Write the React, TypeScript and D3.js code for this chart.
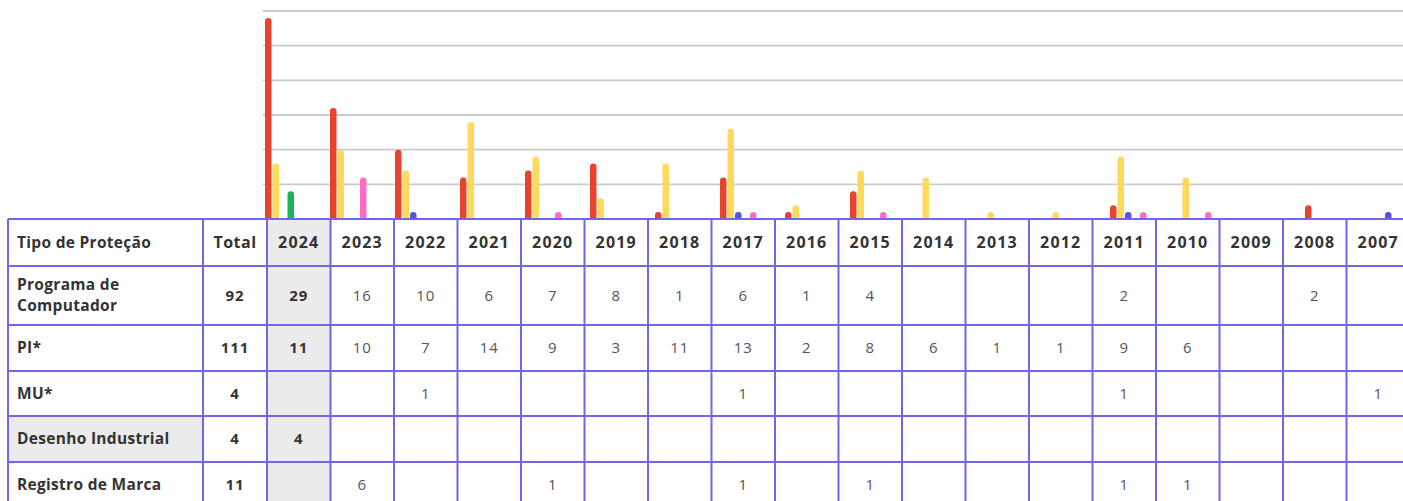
import * as d3 from "d3";

// table content
const years = ["2024", "2023", "2022", "2021", "2020", "2019", "2018", "2017", "2016",
  "2015", "2014", "2013", "2012", "2011", "2010", "2009", "2008", "2007"];
const tipos = ["Programa de Computador", "PI*", "MU*", "Desenho Industrial", "Registro de Marca"];
const totals = [92, 111, 4, 4, 11];

const programa = [29, 16, 10, 6, 7, 8, 1, 6, 1, 4, null, null, null, 2, null, null, 2, null];
const pi = [11, 10, 7, 14, 9, 3, 11, 13, 2, 8, 6, 1, 1, 9, 6, null, null, null];
const mu = [null, null, 1, null, null, null, null, 1, null, null, null, null, null, 1, null, null, null, 1];
const desenho = [4, null, null, null, null, null, null, null, null, null, null, null, null, null, null, null, null, null];
const marca = [null, 6, null, null, 1, null, null, 1, null, 1, null, null, null, 1, 1, null, null, null];

// bar heights as drawn in the chart above the table
const barPrograma = [29, 16, 10, 6, 7, 8, 1, 6, 1, 4, 0, 0, 0, 2, 0, 0, 2, 0];
const barPI = [8, 10, 7, 14, 9, 3, 8, 13, 2, 7, 6, 1, 1, 9, 6, 0, 0, 0];
const barMU = [0, 0, 1, 0, 0, 0, 0, 1, 0, 0, 0, 0, 0, 1, 0, 0, 0, 1];
const barDesenho = [4, 0, 0, 0, 0, 0, 0, 0, 0, 0, 0, 0, 0, 0, 0, 0, 0, 0];
const barMarca = [0, 6, 0, 0, 1, 0, 0, 1, 0, 1, 0, 0, 0, 1, 1, 0, 0, 0];

const gridValues = [5, 10, 15, 20, 25, 30];

const W = 1403;
const H = 501;
const border = "#7166e6";
const shade = "#ebebeb";
const font = "'Open Sans', sans-serif";

const tableRows = [programa, pi, mu, desenho, marca];
const barSeries = [
  { key: "programa", values: barPrograma, color: "#e8432f" },
  { key: "pi", values: barPI, color: "#ffd95c" },
  { key: "mu", values: barMU, color: "#5a50e2" },
  { key: "desenho", values: barDesenho, color: "#1bb35a" },
  { key: "marca", values: barMarca, color: "#ff6ec4" },
];

const rowEdges = [219, 266, 325, 371, 416, 462, 508];

export default function App() {
  const y = d3.scaleLinear().domain([0, 30]).range([219, 11]);
  const xGroup = d3.scaleBand<string>().domain(years).range([264.5, 264.5 + years.length * 65]);
  const xBar = d3.scaleBand<string>().domain(barSeries.map((s) => s.key)).range([0, 37.5]);
  const barW = 6.5;

  const colX = d3.scaleBand<string>().domain(years).range([267, 267 + years.length * 63.5]);
  const firstL = 8;
  const totalL = 203;
  const totalR = 267;

  const barPath = (x: number, top: number, base: number) => {
    const r = Math.min(barW / 2, (base - top) / 2);
    return `M${x},${base}V${top + r}A${r},${r} 0 0 1 ${x + barW},${top + r}V${base}Z`;
  };

  const rowMid = (i: number) => (rowEdges[i] + rowEdges[i + 1]) / 2;

  return (
    <svg width={W} height={H} style={{ position: "absolute", left: 0, top: 0, background: "#fff" }}>
      {/* grid */}
      {gridValues.map((v) => (
        <line key={v} x1={263} x2={W} y1={y(v)} y2={y(v)} stroke="#cbcbcb" strokeWidth={1.8} />
      ))}

      {/* shaded cells */}
      <rect x={colX("2024")!} y={rowEdges[0]} width={colX.bandwidth()} height={rowEdges[6] - rowEdges[0]} fill={shade} />
      <rect x={firstL} y={rowEdges[4]} width={totalL - firstL} height={rowEdges[5] - rowEdges[4]} fill={shade} />

      {/* bars */}
      {barSeries.map((s) =>
        s.values.map((v, i) =>
          v > 0 ? (
            <path
              key={s.key + i}
              d={barPath(xGroup(years[i])! + xBar(s.key)! + (xBar.bandwidth() - barW) / 2, y(v), 219)}
              fill={s.color}
            />
          ) : null
        )
      )}

      {/* table lines */}
      {rowEdges.map((ry) => (
        <line key={"h" + ry} x1={firstL} x2={W} y1={ry} y2={ry} stroke={border} strokeWidth={2} />
      ))}
      {[firstL, totalL, ...years.map((yr) => colX(yr)!), colX(years[years.length - 1])! + colX.bandwidth()].map((cx, i) => (
        <line key={"v" + i} x1={cx} x2={cx} y1={rowEdges[0]} y2={H} stroke={border} strokeWidth={2} />
      ))}

      {/* header */}
      <g fontFamily={font} fontWeight={700} fontSize={16} fill="#333">
        <text x={17} y={rowMid(0)} dy="0.35em" fontSize={15.5} letterSpacing={0.3}>Tipo de Proteção</text>
        <text x={(totalL + totalR) / 2} y={rowMid(0)} dy="0.35em" textAnchor="middle" letterSpacing={0.5}>Total</text>
        {years.map((yr) => (
          <text key={yr} x={colX(yr)! + colX.bandwidth() / 2} y={rowMid(0)} dy="0.35em" textAnchor="middle" letterSpacing={1.2}>
            {yr}
          </text>
        ))}
      </g>

      {/* body */}
      {tipos.map((t, r) => {
        const mid = rowMid(r + 1);
        const words = t === "Programa de Computador" ? ["Programa de", "Computador"] : [t];
        return (
          <g key={t} fontFamily={font} fontSize={15}>
            {words.map((w, k) => (
              <text
                key={w}
                x={17}
                y={mid + (k - (words.length - 1) / 2) * 21}
                dy="0.35em"
                fontWeight={700}
                fontSize={15.5}
                letterSpacing={0.3}
                fill="#333"
              >
                {w}
              </text>
            ))}
            <text x={(totalL + totalR) / 2} y={mid} dy="0.35em" textAnchor="middle" fontWeight={700} fill="#333" letterSpacing={1}>
              {totals[r]}
            </text>
            {tableRows[r].map((v, i) =>
              v == null ? null : (
                <text
                  key={i}
                  x={colX(years[i])! + colX.bandwidth() / 2}
                  y={mid}
                  dy="0.35em"
                  textAnchor="middle"
                  fontWeight={i === 0 ? 700 : 400}
                  fill={i === 0 ? "#333" : "#555"}
                  letterSpacing={1}
                >
                  {v}
                </text>
              )
            )}
          </g>
        );
      })}
    </svg>
  );
}
